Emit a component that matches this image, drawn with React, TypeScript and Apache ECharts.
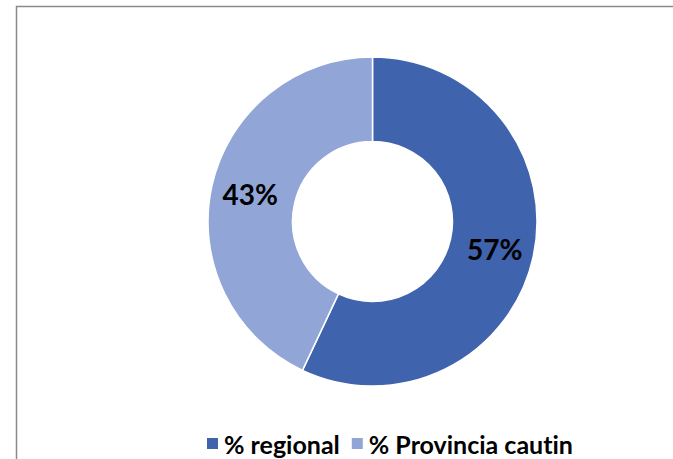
import React, { useEffect, useRef } from "react";
import * as echarts from "echarts";

const categories = ["% regional", "% Provincia cautin"];
const values = [57, 43];
const colors = ["#3F63AD", "#91A6D7"];

export default function App() {
  const ref = useRef<HTMLDivElement>(null);
  useEffect(() => {
    document.body.style.margin = "0";
    const st = document.createElement("style");
    st.textContent = "svg text { font-variant-ligatures: none; font-feature-settings: 'liga' 0; }";
    document.head.appendChild(st);
    const chart = echarts.init(ref.current!, null, { renderer: "svg" });
    chart.setOption({
      animation: false,
      backgroundColor: "#ffffff",
      graphic: [
        {
          type: "rect",
          shape: { x: 16.5, y: 6.5, width: 700, height: 500 },
          style: { fill: "none", stroke: "#8a8a8a", lineWidth: 1.5 },
          silent: true,
        },
      ],
      legend: {
        top: 426,
        left: 200,
        itemWidth: 13,
        itemHeight: 13,
        itemGap: 10,
        icon: "rect",
        textStyle: {
          fontFamily: "Lato",
          fontWeight: "bold",
          fontSize: 25,
          color: "#000",
        },
        data: categories,
      },
      series: [
        {
          type: "pie",
          center: [372.5, 221.5],
          radius: [80, 164.5],
          startAngle: 90,
          clockwise: true,
          itemStyle: { borderColor: "#fff", borderWidth: 1.5 },
          label: {
            show: true,
            position: "inside",
            formatter: "{c}%",
            fontFamily: "Lato",
            fontWeight: "bold",
            fontSize: 28,
            color: "#000",
          },
          labelLine: { show: false },
          data: categories.map((c, i) => ({
            name: c,
            value: values[i],
            itemStyle: { color: colors[i] },
          })),
        },
      ],
    });
    return () => {
      chart.dispose();
      st.remove();
    };
  }, []);
  return (
    <div
      ref={ref}
      style={{ position: "fixed", left: 0, top: 0, width: 673, height: 459 }}
    />
  );
}
